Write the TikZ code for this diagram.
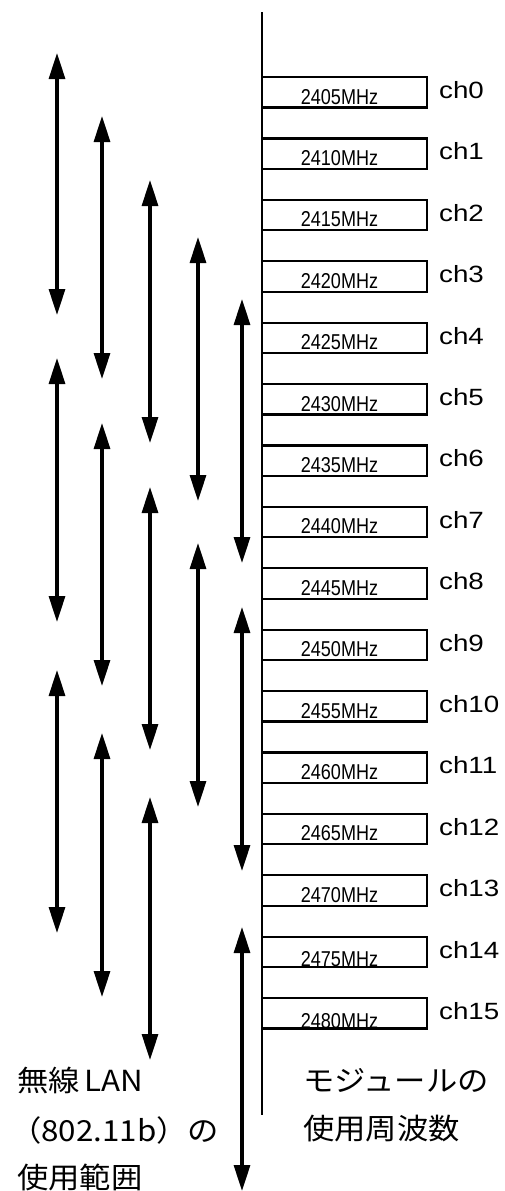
\documentclass[tikz,border=0pt]{standalone}
\usepackage{fontspec}
\setmainfont{Liberation Sans}
\newfontfamily\chfont[FakeStretch=1.18]{Liberation Sans}
\newfontfamily\freqfont[FakeStretch=0.84]{Liberation Sans}
\newfontfamily\jpfont[FakeStretch=1.08]{Noto Sans CJK JP}
\usetikzlibrary{arrows.meta,positioning}

\begin{document}
\begin{tikzpicture}[x=1pt, y=-1pt,
  chbox/.style={draw, line width=2.2pt, minimum width=165pt, minimum height=30.5pt,
                inner sep=0pt, outer sep=0pt},
  freq/.style={font=\freqfont\fontsize{21.5}{24}\selectfont, inner sep=0pt},
  chlab/.style={font=\chfont\fontsize{23.5}{28}\selectfont, inner sep=0pt},
  jp/.style={font=\jpfont\fontsize{29}{34}\selectfont, inner sep=0pt, anchor=base west},
  bandarrow/.style={{Triangle[length=26pt,width=16pt]}-{Triangle[length=26pt,width=16pt]},
                line width=3.2pt}]
\useasboundingbox (0,0) rectangle (505,1191);
\draw[line width=2.8pt] (262,12) -- (262,1115);
\foreach \i in {0,...,15} {
  \pgfmathtruncatemacro\f{2405+5*\i}
  \pgfmathsetmacro\lift{\i>13 ? 0.5 : 3.5}
  \node[chbox] (b\i) at (344.5, 92.25+61.4*\i) {};
  \node[freq, anchor=base] (m\i) at ([xshift=-5pt, yshift=\lift pt]b\i.south) {\f MHz};
  \node[chlab, anchor=base west] (c\i) at ([xshift=12pt, yshift=9pt]b\i.south east) {ch\i};
}
\foreach \x/\ya/\yb in {57/53/315, 57/358/622, 57/670/933,
                        102/116/379, 102/423/686, 102/733/997,
                        150/180/443, 150/487/750, 150/797/1060,
                        198/237/501, 198/543/807,
                        242/299/563, 242/607/871, 242/927/1191}
  \draw[bandarrow] (\x,\ya) -- (\x,\yb);
\node[jp] (w1) at (17,1091) {無線\,LAN};
\node[jp] (w2) at (10,1141) {（802.11b）の};
\node[jp] (w3) at (17,1188) {使用範囲};
\node[jp] (f1) at (303,1091) {モジュールの};
\node[jp] (f2) at (303,1139) {使用周波数};
\end{tikzpicture}
\end{document}
